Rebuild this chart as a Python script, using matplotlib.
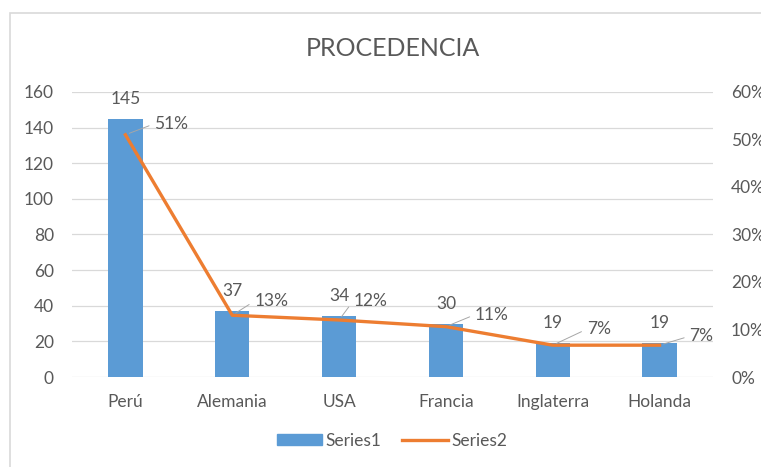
import matplotlib
matplotlib.use('Agg')
import matplotlib.pyplot as plt
from matplotlib.patches import Rectangle
from matplotlib.ticker import FuncFormatter

plt.rcParams['font.family'] = ['Lato', 'DejaVu Sans']

paises = ['Perú', 'Alemania', 'USA', 'Francia', 'Inglaterra', 'Holanda']
series1 = [145, 37, 34, 30, 19, 19]
series2 = [0.51, 0.13, 0.12, 0.106, 0.067, 0.067]
etiquetas2 = ['51%', '13%', '12%', '11%', '7%', '7%']
# label offsets in pixels (dx, dy) for the percentage labels
offs2 = [(46, 11), (39, 14), (31, 19), (46, 12), (46, 16), (42, 9)]

GRIS = '#595959'
AZUL = '#5B9BD5'
NARANJA = '#ED7D31'
FS = 12.5

fig = plt.figure(figsize=(7.61, 4.67), dpi=100)
fig.patches.append(Rectangle((10 / 761, -0.05), 1.1, 1 - 13 / 467 + 0.05,
                             transform=fig.transFigure, fill=False,
                             edgecolor='#D9D9D9', lw=1.2))
ax = fig.add_axes([72 / 761, 90 / 467, 641 / 761, 285 / 467])
ax2 = ax.twinx()

x = range(len(paises))
ax.bar(x, series1, width=0.32, color=AZUL, zorder=2)
ax.set_ylim(0, 160)
ax.set_yticks(range(0, 161, 20))
ax.set_xlim(-0.5, len(paises) - 0.5)
ax.set_xticks(list(x))
ax.set_xticklabels(paises)
ax.grid(axis='y', color='#D9D9D9', lw=0.9, zorder=0)
ax.set_axisbelow(True)
for s in ax.spines.values():
    s.set_visible(False)
for s in ax2.spines.values():
    s.set_visible(False)
ax.tick_params(axis='both', length=0, colors=GRIS, labelsize=FS)
ax.tick_params(axis='y', pad=13)
ax.tick_params(axis='x', pad=12)

for i, v in enumerate(series1):
    ax.annotate(str(v), (i, v), xytext=(0, 20), textcoords='offset pixels',
                ha='center', va='center', color=GRIS, fontsize=FS)

ax2.plot(list(x), series2, color=NARANJA, lw=2.4, zorder=3)
ax2.set_ylim(0, 0.6)
ax2.set_yticks([0, 0.1, 0.2, 0.3, 0.4, 0.5, 0.6])
ax2.yaxis.set_major_formatter(FuncFormatter(lambda v, p: f'{v:.0%}'))
ax2.tick_params(axis='y', length=0, colors=GRIS, labelsize=FS, pad=13)

for i, (v, t) in enumerate(zip(series2, etiquetas2)):
    ax2.annotate(t, (i, v), xytext=offs2[i], textcoords='offset pixels',
                 ha='center', va='center', color=GRIS, fontsize=FS,
                 arrowprops=dict(arrowstyle='-', color='#A6A6A6', lw=0.7,
                                 relpos=(0, 0.5), shrinkA=2, shrinkB=3))

fig.text(393 / 761, 1 - 48 / 467, 'PROCEDENCIA', ha='center', va='center',
         color=GRIS, fontsize=18)

h1 = plt.Rectangle((0, 0), 1, 1, color=AZUL)
h2, = ax.plot([], [], color=NARANJA, lw=2.4)
fig.legend([h1, h2], ['Series1', 'Series2'], loc='center',
           bbox_to_anchor=(392 / 761, 1 - 441 / 467), ncol=2, frameon=False,
           fontsize=FS, labelcolor=GRIS, handlelength=2.6, handleheight=0.6,
           handletextpad=0.2, columnspacing=1.2)

fig.savefig('out.png', dpi=100)
